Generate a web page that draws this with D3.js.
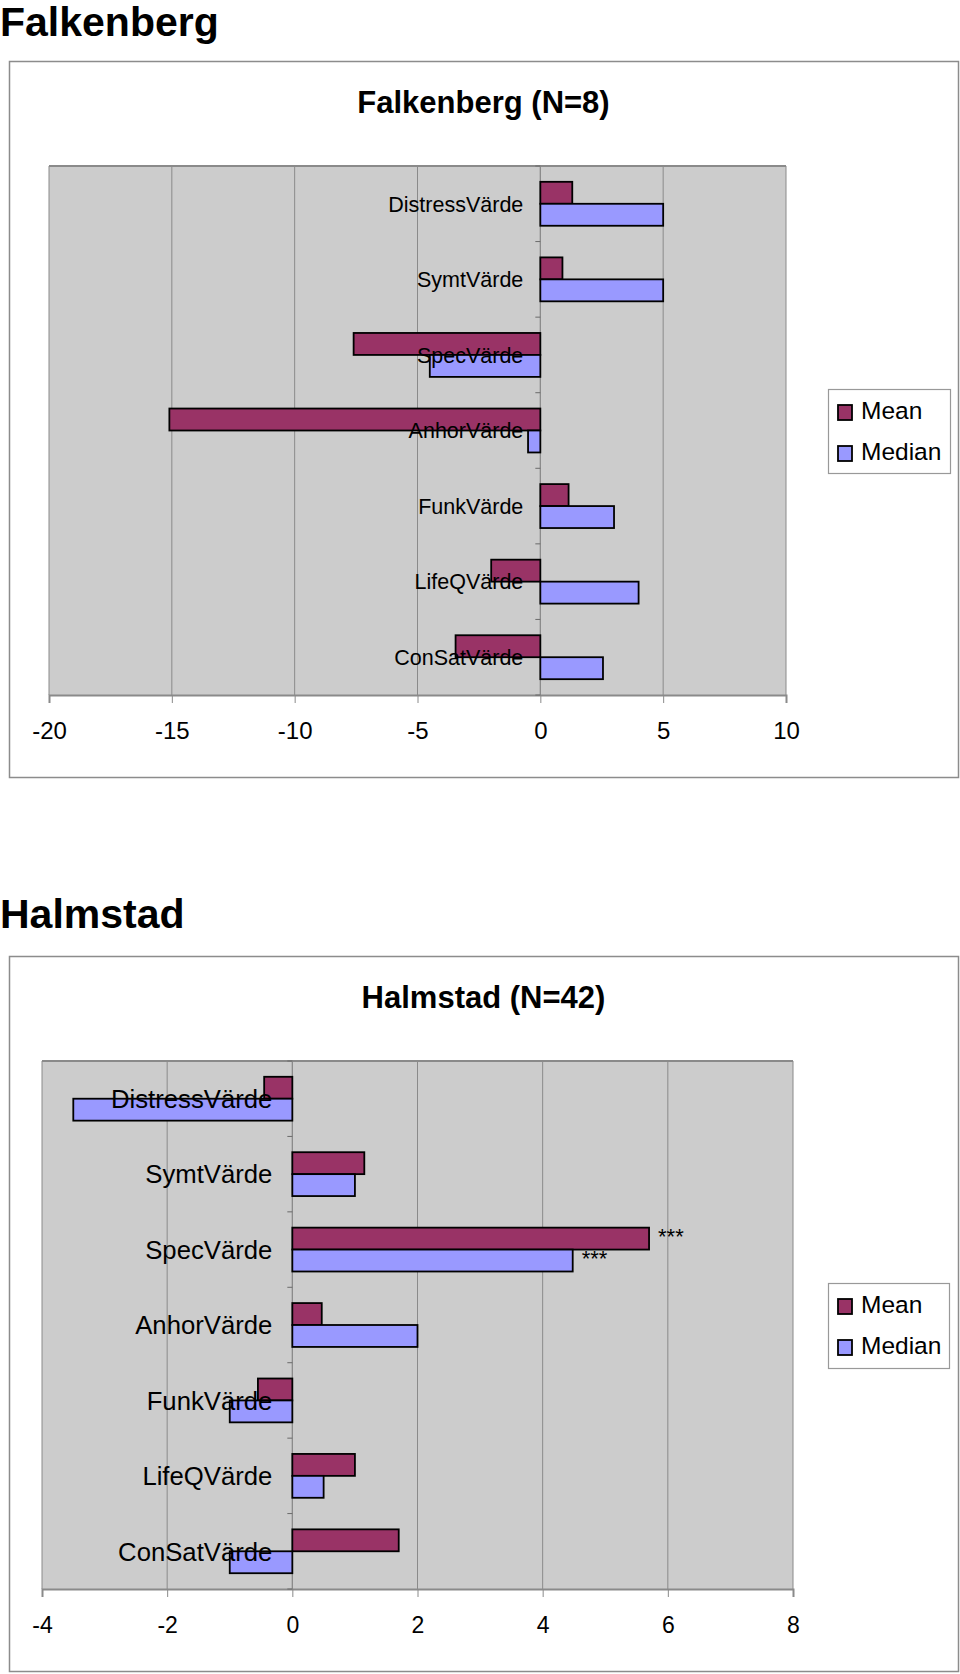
<!DOCTYPE html>
<html>
<head>
<meta charset="utf-8">
<script src="https://cdn.jsdelivr.net/npm/d3@7"></script>
<style>
  html, body { margin: 0; padding: 0; background: #ffffff; }
  svg { display: block; font-family: "Liberation Sans", Arial, sans-serif; }
</style>
</head>
<body>
<svg id="chart" width="960" height="1674"></svg>
<script>
// ---- data ----
const categories = ["DistressVärde", "SymtVärde", "SpecVärde", "AnhorVärde", "FunkVärde", "LifeQVärde", "ConSatVärde"];
const seriesNames = ["Mean", "Median"];

const falkenbergMean   = [1.3, 0.9, -7.6, -15.1, 1.15, -2.0, -3.45];
const falkenbergMedian = [5, 5, -4.5, -0.5, 3, 4, 2.55];
const falkenbergTicks  = [-20, -15, -10, -5, 0, 5, 10];

const halmstadMean   = [-0.45, 1.15, 5.7, 0.47, -0.55, 1.0, 1.7];
const halmstadMedian = [-3.5, 1, 4.48, 2, -1, 0.5, -1];
const halmstadTicks  = [-4, -2, 0, 2, 4, 6, 8];
// data labels: [categoryIndex, seriesIndex, text]
const halmstadLabels = [[2, 0, "***"], [2, 1, "***"]];

const colors = ["#993366", "#9999FF"];

const svg = d3.select("#chart");

function drawSection(cfg) {
  const g = svg.append("g");

  // section heading
  g.append("text")
    .attr("x", 0).attr("y", cfg.headingY)
    .attr("font-size", 41).attr("font-weight", "bold")
    .attr("fill", "#000")
    .text(cfg.heading);

  // outer chart box
  g.append("rect")
    .attr("x", cfg.box[0] + 0.5).attr("y", cfg.box[1] + 0.5)
    .attr("width", cfg.box[2] - cfg.box[0]).attr("height", cfg.box[3] - cfg.box[1])
    .attr("fill", "#fff").attr("stroke", "#8c8c8c").attr("stroke-width", 1.5);

  // chart title
  g.append("text")
    .attr("x", (cfg.box[0] + cfg.box[2]) / 2).attr("y", cfg.titleY)
    .attr("text-anchor", "middle")
    .attr("font-size", 31).attr("font-weight", "bold")
    .text(cfg.title);

  const [L, T, R, B] = cfg.plot;
  const x = d3.scaleLinear().domain(cfg.domain).range([L, R]);
  const y = d3.scaleBand().domain(categories).range([T, B]);
  const inner = d3.scaleBand().domain(seriesNames).range([0, y.bandwidth()]).paddingOuter(cfg.outerPad);

  // plot area
  g.append("rect")
    .attr("x", L).attr("y", T).attr("width", R - L).attr("height", B - T)
    .attr("fill", "#cccccc");

  // gridlines
  g.append("g").selectAll("line").data(cfg.ticks).join("line")
    .attr("x1", d => x(d)).attr("x2", d => x(d))
    .attr("y1", T).attr("y2", B)
    .attr("stroke", "#8a8a8a").attr("stroke-width", 1);

  // plot top border
  g.append("line").attr("x1", L).attr("x2", R).attr("y1", T).attr("y2", T)
    .attr("stroke", "#8a8a8a").attr("stroke-width", 2);

  // x axis
  const xAxis = d3.axisBottom(x).tickValues(cfg.ticks).tickSize(8).tickPadding(cfg.tickPad)
    .tickFormat(d3.format("d"));
  const ax = g.append("g").attr("transform", `translate(0,${B})`).call(xAxis);
  ax.select(".domain").attr("stroke", "#8a8a8a").attr("stroke-width", 2);
  ax.selectAll(".tick line").attr("stroke", "#8a8a8a");
  ax.selectAll(".tick text")
    .attr("font-size", cfg.tickFont).attr("fill", "#000")
    .attr("font-family", "'Liberation Sans', Arial, sans-serif")
    .text(d => d < 0 ? "-" + Math.abs(d) : d);

  // category axis at zero
  const x0 = x(0);
  g.append("line").attr("x1", x0).attr("x2", x0).attr("y1", T).attr("y2", B)
    .attr("stroke", "#8a8a8a").attr("stroke-width", 1);
  const bounds = d3.range(categories.length + 1).map(i => T + i * y.step());
  g.append("g").selectAll("line").data(bounds).join("line")
    .attr("x1", x0 - 5).attr("x2", x0).attr("y1", d => d).attr("y2", d => d)
    .attr("stroke", "#6a6a6a").attr("stroke-width", 1);

  // bars
  const series = [cfg.mean, cfg.median];
  series.forEach((vals, si) => {
    g.append("g").selectAll("rect").data(vals).join("rect")
      .attr("x", d => Math.min(x(d), x0))
      .attr("y", (d, i) => y(categories[i]) + inner(seriesNames[si]))
      .attr("width", d => Math.abs(x(d) - x0))
      .attr("height", inner.bandwidth())
      .attr("fill", colors[si])
      .attr("stroke", "#000").attr("stroke-width", 1.8);
  });

  // category labels (drawn on top of bars)
  g.append("g").selectAll("text").data(categories).join("text")
    .attr("x", x0 - cfg.labelGap)
    .attr("y", d => y(d) + y.bandwidth() / 2)
    .attr("dy", "0.36em")
    .attr("text-anchor", "end")
    .attr("font-size", cfg.catFont)
    .attr("fill", "#000")
    .text(d => d);

  // data labels
  (cfg.labels || []).forEach(([ci, si, txt]) => {
    const v = series[si][ci];
    g.append("text")
      .attr("x", x(v) + 9)
      .attr("y", y(categories[ci]) + inner(seriesNames[si]) + 16)
      .attr("font-size", 22).attr("fill", "#000")
      .text(txt);
  });

  // legend
  const [lx, ly, lx2, ly2] = cfg.legend;
  g.append("rect").attr("x", lx + 0.5).attr("y", ly + 0.5).attr("width", lx2 - lx).attr("height", ly2 - ly)
    .attr("fill", "#fff").attr("stroke", "#999").attr("stroke-width", 1.2);
  seriesNames.forEach((name, si) => {
    const base = ly + 30 + si * 41;
    g.append("rect")
      .attr("x", lx + 10).attr("y", base - 14)
      .attr("width", 14).attr("height", 15)
      .attr("fill", colors[si]).attr("stroke", "#000").attr("stroke-width", 1.8);
    g.append("text")
      .attr("x", lx + 33).attr("y", base)
      .attr("font-size", 24.5).attr("fill", "#000")
      .text(name);
  });
}

drawSection({
  heading: "Falkenberg", headingY: 36,
  box: [9, 61, 958, 777],
  title: "Falkenberg (N=8)", titleY: 113,
  plot: [49, 166, 786, 695],
  domain: [-20, 10], ticks: falkenbergTicks,
  mean: falkenbergMean, median: falkenbergMedian,
  outerPad: 0.72, tickPad: 19, tickFont: 24,
  catFont: 21.5, labelGap: 17,
  legend: [828, 389, 950, 473]
});

drawSection({
  heading: "Halmstad", headingY: 928,
  box: [9, 956, 958, 1671],
  title: "Halmstad (N=42)", titleY: 1008,
  plot: [42, 1061, 793, 1589],
  domain: [-4, 8], ticks: halmstadTicks,
  mean: halmstadMean, median: halmstadMedian,
  labels: halmstadLabels,
  outerPad: 0.72, tickPad: 20, tickFont: 23,
  catFont: 25.7, labelGap: 20,
  legend: [828, 1283, 949, 1368]
});
</script>
</body>
</html>
